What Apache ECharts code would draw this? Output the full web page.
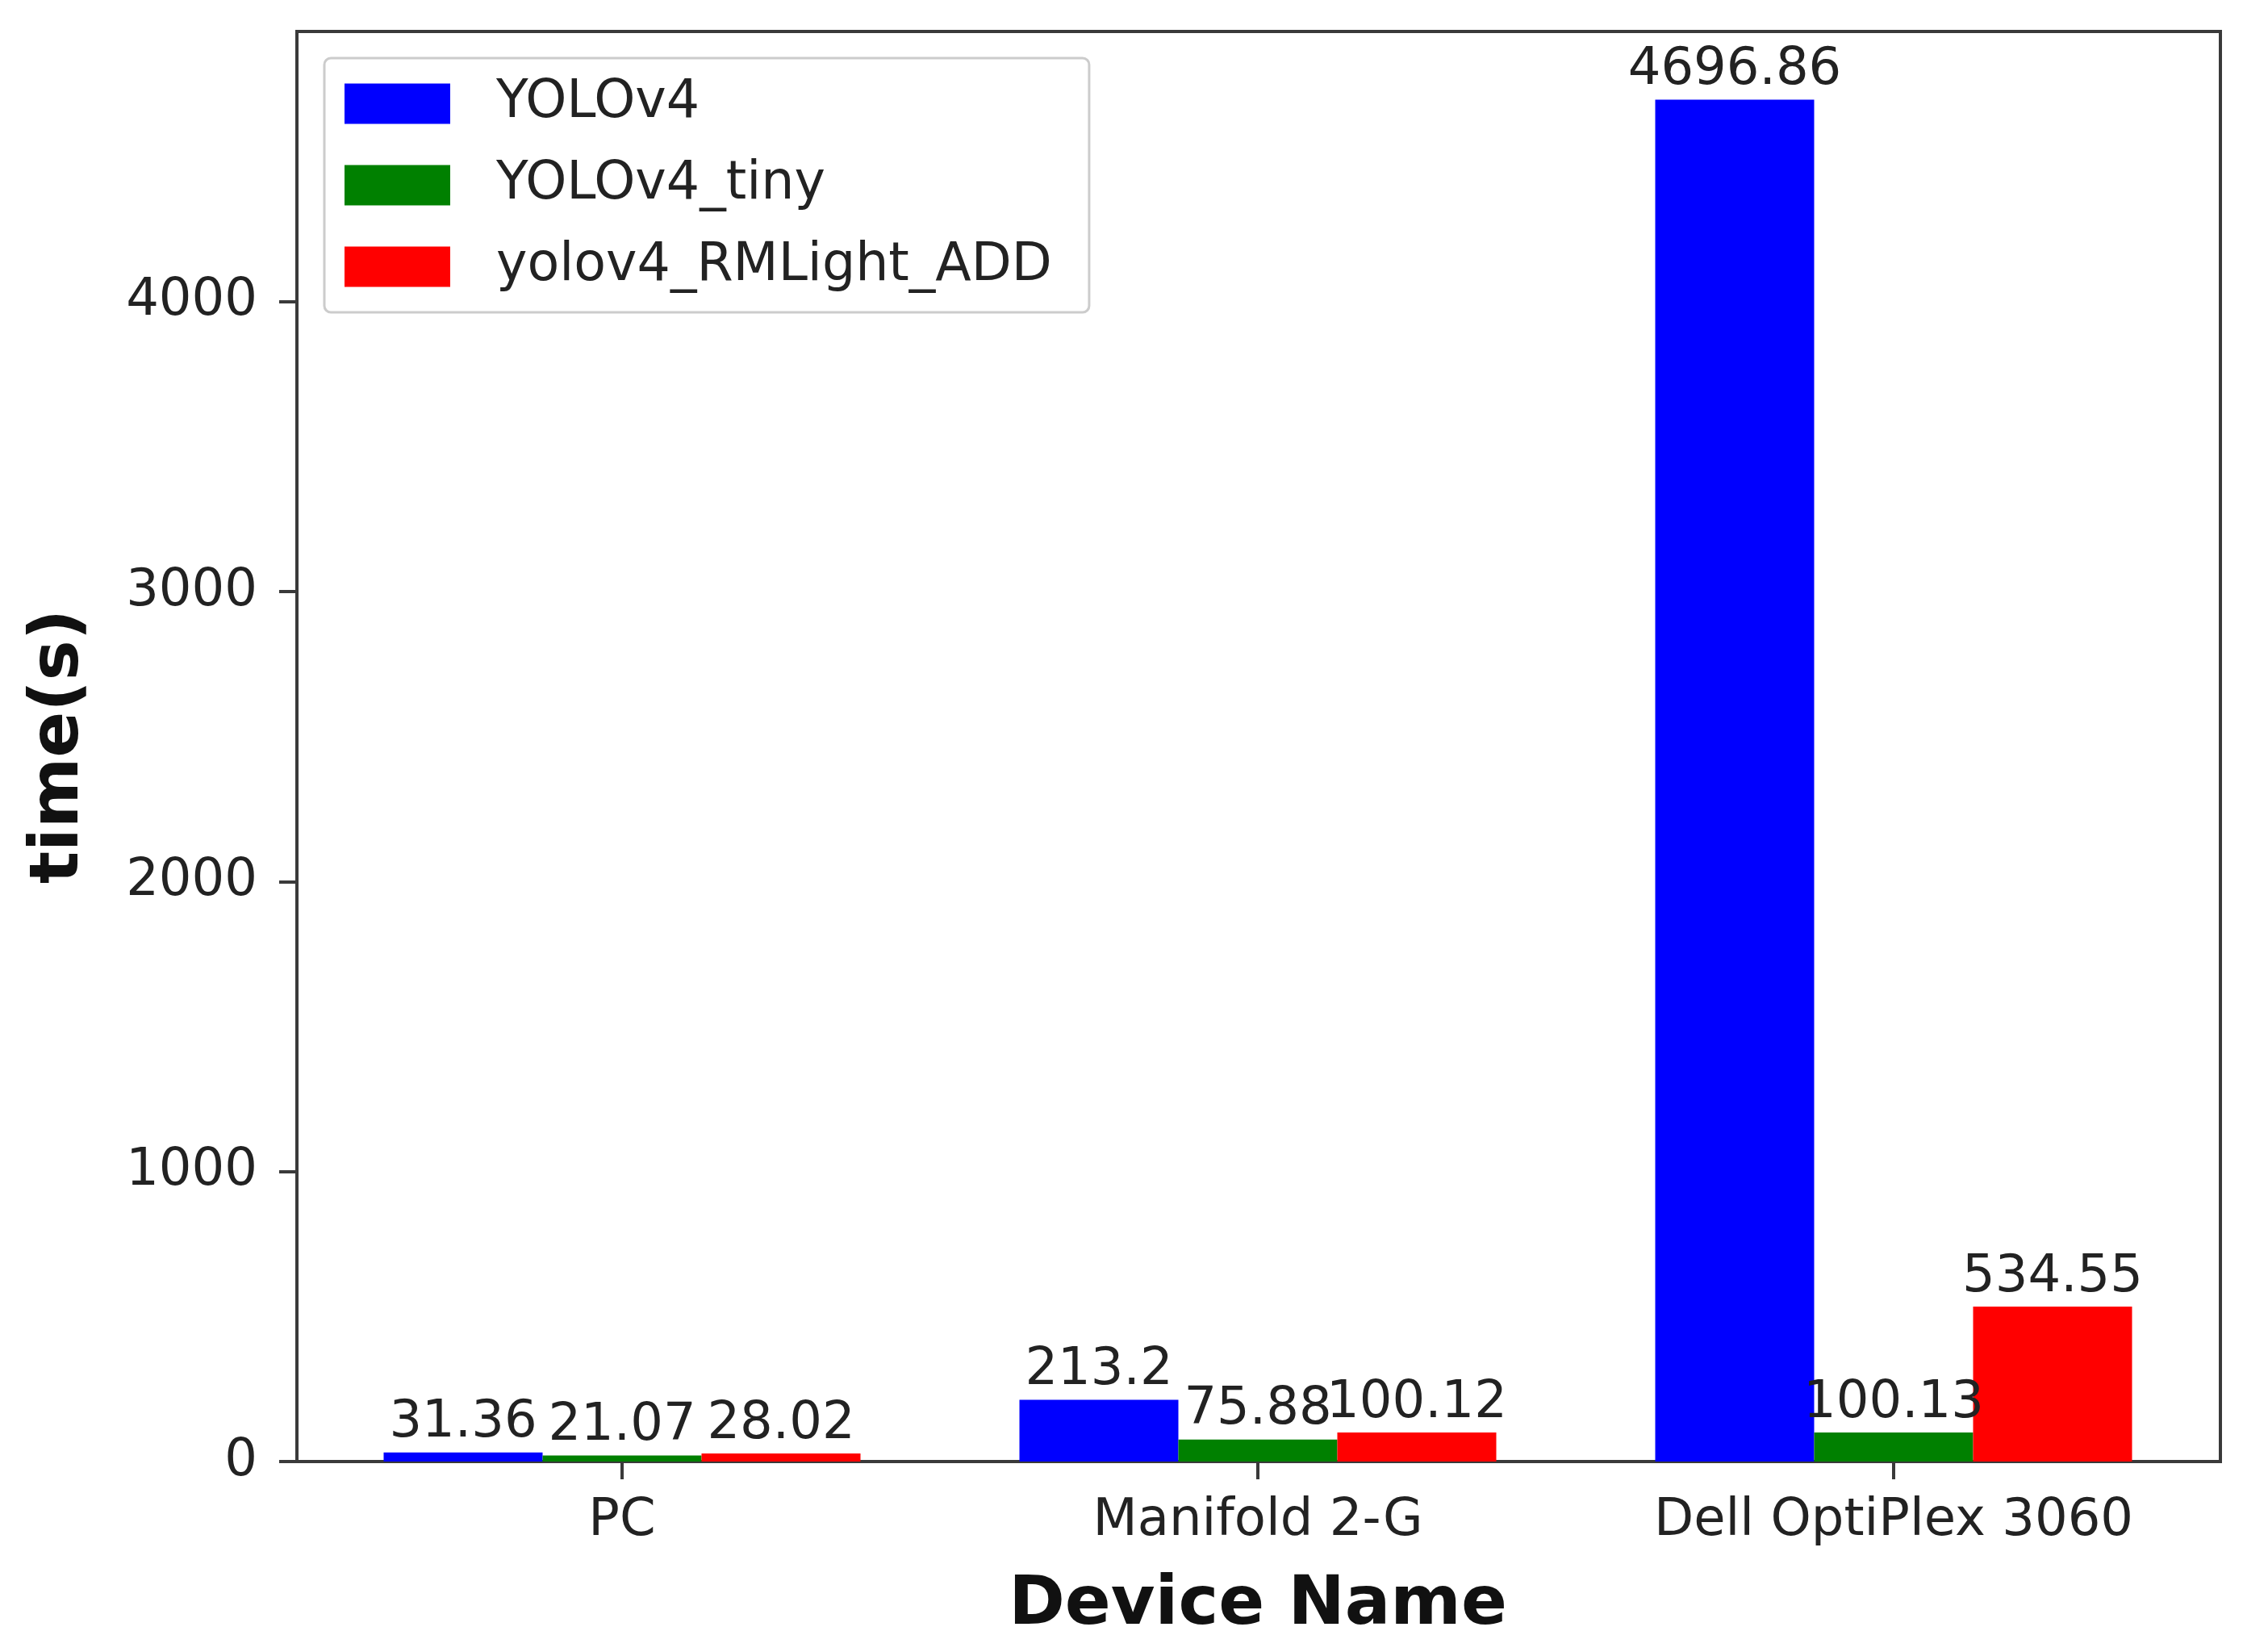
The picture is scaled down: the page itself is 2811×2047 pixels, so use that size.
<!DOCTYPE html>
<html>
<head>
<meta charset="utf-8">
<script src="https://cdn.jsdelivr.net/npm/echarts@6/dist/echarts.min.js"></script>
<style>
html,body{margin:0;padding:0;background:#fff;}
#chart{width:2811px;height:2047px;}
</style>
</head>
<body>
<div id="chart"></div>
<script>
const devices = ['PC', 'Manifold 2-G', 'Dell OptiPlex 3060'];
const seriesNames = ['YOLOv4', 'YOLOv4_tiny', 'yolov4_RMLight_ADD'];
const yolov4 = [31.36, 213.2, 4696.86];
const yolov4Tiny = [21.07, 75.88, 100.13];
const yolov4RMLight = [28.02, 100.12, 534.55];
const yTicks = [0, 1000, 2000, 3000, 4000];
const yMax = 4931.7;

const FONT = 'DejaVu Sans';
const TXT = '#222';
const AX = '#3a3a3a';
const colors = ['#0000ff', '#008000', '#ff0000'];
const allData = [yolov4, yolov4Tiny, yolov4RMLight];

const chart = echarts.init(document.getElementById('chart'));
chart.setOption({
  animation: false,
  backgroundColor: '#ffffff',
  grid: [
    { left: 377, right: 70, top: 39, bottom: 236, show: false },
    { left: 368, right: 59, top: 39, bottom: 236, show: true,
      borderColor: AX, borderWidth: 4, backgroundColor: 'transparent' }
  ],
  legend: {
    orient: 'vertical',
    left: 402, top: 72,
    padding: [24, 46, 24, 25],
    itemWidth: 131, itemHeight: 50, itemGap: 36,
    icon: 'rect',
    backgroundColor: 'rgba(255,255,255,0.8)',
    borderColor: '#cccccc', borderWidth: 3, borderRadius: 8,
    textStyle: { fontFamily: FONT, fontSize: 65, color: TXT, padding: [0, 0, 0, 52] },
    data: seriesNames
  },
  xAxis: [{
    gridIndex: 0,
    type: 'category',
    data: devices,
    boundaryGap: true,
    name: 'Device Name',
    nameLocation: 'middle',
    nameGap: 137,
    nameTextStyle: { fontFamily: FONT, fontSize: 84, fontWeight: 'bold', color: '#111' },
    axisLine: { show: true, lineStyle: { color: AX, width: 4 } },
    axisTick: { show: true, alignWithLabel: true, length: 22, lineStyle: { color: AX, width: 4 } },
    axisLabel: { fontFamily: FONT, fontSize: 64, color: TXT, margin: 42 },
    splitLine: { show: false }
  }, {
    gridIndex: 1, type: 'value', show: false
  }],
  yAxis: [{
    gridIndex: 0,
    type: 'value',
    min: 0, max: yMax,
    offset: 9,
    name: 'time(s)',
    nameLocation: 'middle',
    nameGap: 252,
    nameTextStyle: { fontFamily: FONT, fontSize: 84, fontWeight: 'bold', color: '#111' },
    axisLine: { show: true, lineStyle: { color: AX, width: 4 } },
    axisTick: { show: true, length: 22, customValues: yTicks, lineStyle: { color: AX, width: 4 } },
    axisLabel: { fontFamily: FONT, fontSize: 64, color: TXT, margin: 49, customValues: yTicks,
      formatter: v => String(v) },
    splitLine: { show: false }
  }, {
    gridIndex: 1, type: 'value', show: false
  }],
  series: seriesNames.map((n, i) => ({
    name: n,
    type: 'bar',
    xAxisIndex: 0, yAxisIndex: 0,
    data: allData[i],
    barWidth: 197,
    barGap: '0%',
    itemStyle: { color: colors[i] },
    label: {
      show: true, position: 'top', distance: 4,
      fontFamily: FONT, fontSize: 64, color: TXT
    }
  }))
});
</script>
</body>
</html>
